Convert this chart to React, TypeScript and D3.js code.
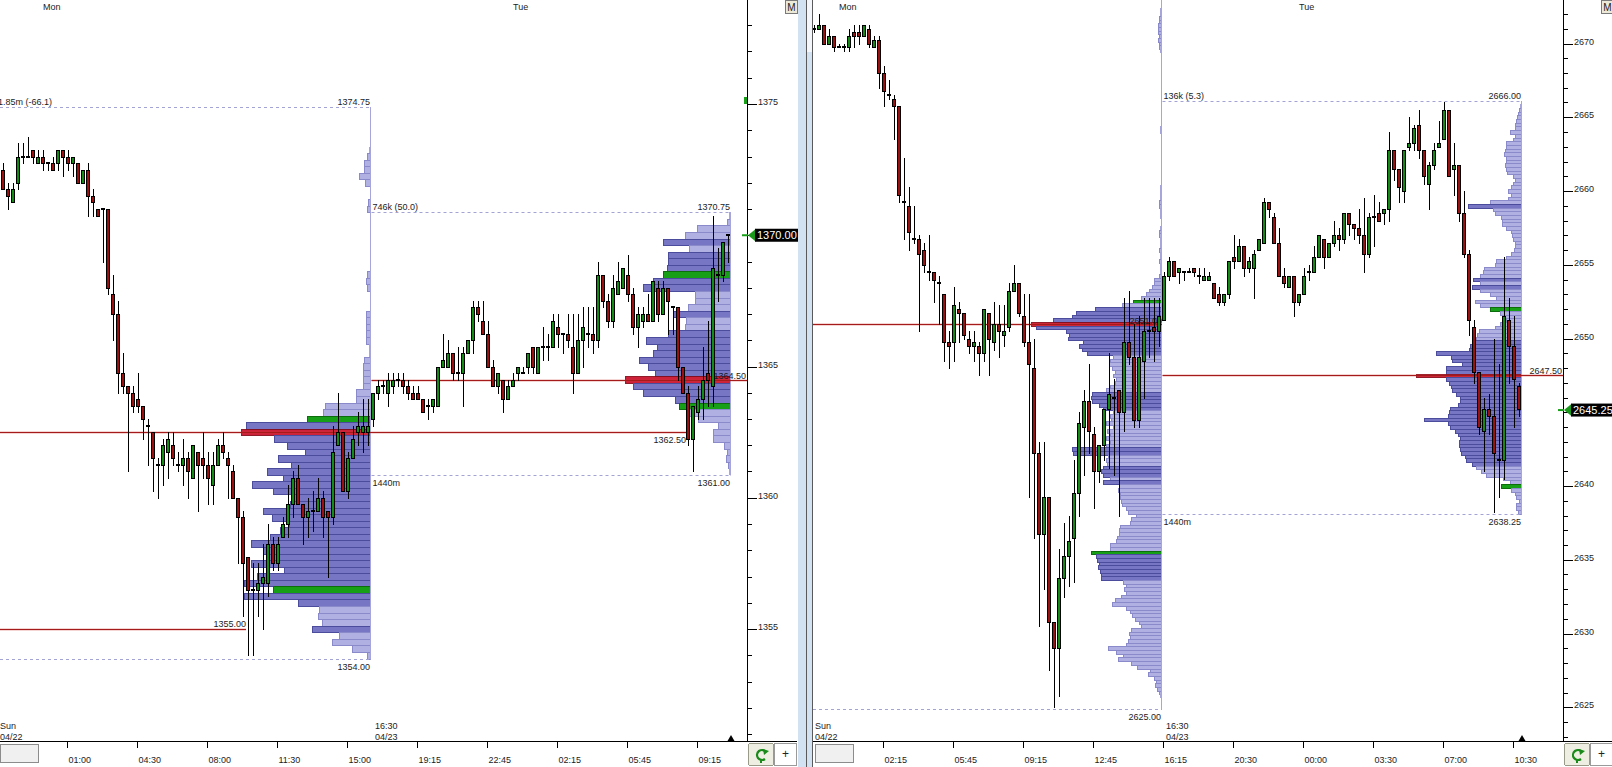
import React from "react";
import * as d3 from "d3";

type Bar = [number, number, number, number]; // open, high, low, close (15 min bars)

// ---------- left chart ----------
const leftMonBars: Bar[] = [
  [1372.5, 1372.75, 1371.75, 1371.75], [1371.75, 1372.0, 1371.0, 1371.5], [1371.25, 1372.0, 1371.25, 1371.75],
  [1372.0, 1373.5, 1371.75, 1373.0], [1373.0, 1373.5, 1372.75, 1373.0], [1373.0, 1373.75, 1373.0, 1373.0],
  [1373.25, 1373.25, 1372.75, 1373.0], [1372.75, 1373.25, 1372.75, 1373.0], [1373.0, 1373.25, 1372.5, 1372.75],
  [1372.75, 1372.75, 1372.5, 1372.75], [1372.75, 1373.0, 1372.5, 1372.5], [1372.75, 1373.25, 1372.5, 1373.25],
  [1373.25, 1373.25, 1372.25, 1373.0], [1373.0, 1373.25, 1372.5, 1372.75], [1372.75, 1373.0, 1372.25, 1373.0],
  [1372.75, 1372.75, 1372.0, 1372.0], [1372.0, 1372.5, 1372.0, 1372.5], [1372.5, 1372.75, 1370.75, 1371.5],
  [1371.5, 1371.75, 1370.75, 1371.25], [1371.0, 1371.0, 1370.75, 1370.75], [1371.0, 1371.0, 1369.0, 1371.0],
  [1371.0, 1371.0, 1367.75, 1368.0], [1367.75, 1368.5, 1366.0, 1367.0], [1367.0, 1367.5, 1364.0, 1364.75],
  [1364.75, 1365.5, 1364.0, 1364.25], [1364.25, 1364.25, 1361.0, 1364.0], [1364.0, 1364.25, 1363.25, 1363.5],
  [1363.75, 1364.75, 1363.25, 1363.5], [1363.5, 1363.5, 1362.25, 1363.0], [1362.75, 1363.0, 1361.25, 1362.75],
  [1362.5, 1362.5, 1360.25, 1361.5], [1361.25, 1361.5, 1360.0, 1361.25], [1361.25, 1362.25, 1360.5, 1362.0],
  [1361.75, 1362.5, 1360.75, 1362.25], [1362.0, 1362.5, 1361.25, 1361.5], [1361.25, 1361.75, 1361.0, 1361.25],
  [1361.25, 1362.25, 1360.5, 1361.5], [1361.5, 1361.75, 1360.0, 1361.0], [1360.75, 1362.0, 1360.75, 1362.0],
  [1361.75, 1361.75, 1359.5, 1361.25], [1361.5, 1362.5, 1360.75, 1361.25], [1361.25, 1361.75, 1359.75, 1360.75],
  [1360.5, 1361.75, 1359.75, 1361.25], [1361.25, 1362.25, 1361.25, 1362.0], [1362.0, 1362.5, 1361.5, 1361.75],
  [1361.5, 1361.75, 1360.0, 1361.25], [1361.0, 1361.25, 1360.0, 1360.0], [1360.0, 1360.0, 1357.5, 1359.25],
  [1359.25, 1359.5, 1355.5, 1357.5], [1357.75, 1357.75, 1354.0, 1356.5], [1356.5, 1357.5, 1354.0, 1356.5],
  [1356.5, 1357.5, 1355.5, 1356.75], [1356.75, 1358.25, 1355.0, 1357.0], [1356.75, 1359.0, 1356.25, 1358.25],
  [1358.25, 1358.5, 1357.25, 1357.5], [1357.5, 1358.5, 1357.25, 1358.25], [1358.5, 1359.25, 1358.5, 1359.0],
  [1359.0, 1360.5, 1358.5, 1359.75], [1359.75, 1361.0, 1359.25, 1360.75], [1360.75, 1361.25, 1359.75, 1359.75],
  [1359.75, 1359.75, 1358.25, 1359.25], [1359.25, 1360.0, 1358.5, 1359.5], [1359.5, 1360.25, 1358.75, 1359.5],
  [1359.5, 1360.75, 1359.5, 1360.0], [1360.0, 1360.25, 1358.5, 1359.25], [1359.5, 1359.5, 1357.0, 1359.25],
  [1359.25, 1362.75, 1359.0, 1361.75], [1362.0, 1364.0, 1362.0, 1362.5], [1362.5, 1362.5, 1360.25, 1360.25],
  [1360.25, 1361.75, 1360.0, 1361.5], [1361.5, 1362.75, 1361.5, 1362.25], [1362.5, 1363.25, 1362.0, 1362.75],
  [1362.5, 1363.75, 1361.75, 1362.75], [1362.5, 1363.75, 1362.0, 1362.75],
];

const leftTueBars: Bar[] = [
  [1363.0, 1364.0, 1362.75, 1364.0], [1364.0, 1364.5, 1363.75, 1364.25], [1364.25, 1364.5, 1364.0, 1364.25],
  [1364.0, 1364.75, 1363.5, 1364.5], [1364.25, 1364.75, 1364.0, 1364.5], [1364.5, 1364.75, 1364.25, 1364.5],
  [1364.5, 1364.75, 1364.0, 1364.25], [1364.25, 1364.5, 1363.75, 1364.0], [1364.0, 1364.25, 1363.75, 1363.75],
  [1364.0, 1364.25, 1363.75, 1363.75], [1363.75, 1363.75, 1363.25, 1363.25], [1363.5, 1363.75, 1363.0, 1363.5],
  [1363.5, 1363.75, 1363.25, 1363.75], [1363.5, 1365.0, 1363.5, 1365.0], [1365.0, 1366.25, 1365.0, 1365.25],
  [1365.0, 1366.0, 1365.0, 1365.5], [1365.5, 1365.5, 1364.5, 1364.75], [1364.75, 1365.75, 1364.5, 1364.75],
  [1364.75, 1365.75, 1363.5, 1365.5], [1365.5, 1366.0, 1365.5, 1366.0], [1366.0, 1367.5, 1365.5, 1367.25],
  [1367.25, 1367.5, 1366.75, 1367.0], [1366.75, 1367.5, 1366.25, 1366.25], [1366.25, 1366.75, 1365.0, 1365.0],
  [1365.0, 1365.25, 1364.25, 1364.25], [1364.25, 1364.75, 1364.0, 1364.75], [1364.5, 1364.5, 1363.25, 1363.75],
  [1363.75, 1364.5, 1363.75, 1364.25], [1364.25, 1364.75, 1364.25, 1364.5], [1364.75, 1365.0, 1364.5, 1365.0],
  [1364.75, 1365.0, 1364.75, 1364.75], [1365.0, 1365.5, 1364.75, 1365.5], [1365.75, 1365.75, 1364.75, 1365.0],
  [1364.75, 1365.75, 1364.75, 1365.75], [1365.75, 1366.5, 1365.25, 1365.75], [1365.75, 1366.25, 1365.25, 1365.75],
  [1365.75, 1367.0, 1365.75, 1366.75], [1366.5, 1367.0, 1365.75, 1366.25], [1366.25, 1366.25, 1365.5, 1366.25],
  [1366.25, 1367.0, 1365.75, 1366.0], [1365.75, 1367.0, 1364.0, 1364.75], [1364.75, 1367.0, 1364.75, 1366.0],
  [1366.0, 1367.25, 1365.0, 1366.5], [1366.25, 1367.25, 1365.75, 1366.25], [1366.25, 1367.25, 1365.5, 1366.0],
  [1366.0, 1369.0, 1365.75, 1368.5], [1368.5, 1368.5, 1367.25, 1367.5], [1367.5, 1367.75, 1366.5, 1366.75],
  [1366.75, 1368.5, 1366.5, 1368.0], [1367.75, 1369.0, 1367.75, 1368.25], [1368.0, 1368.75, 1368.0, 1368.75],
  [1368.5, 1369.25, 1367.5, 1367.75], [1367.75, 1368.0, 1366.25, 1366.5], [1366.5, 1367.25, 1365.75, 1367.0],
  [1366.75, 1367.25, 1366.5, 1367.0], [1367.0, 1367.75, 1366.75, 1366.75], [1366.75, 1368.25, 1366.75, 1368.25],
  [1368.0, 1368.25, 1366.75, 1367.0], [1367.0, 1368.25, 1367.0, 1368.0], [1368.0, 1368.0, 1366.25, 1367.5],
  [1367.25, 1367.25, 1366.25, 1367.25], [1367.25, 1367.25, 1364.5, 1365.0], [1365.0, 1365.0, 1364.0, 1364.0],
  [1364.0, 1364.25, 1362.0, 1362.25], [1362.25, 1363.5, 1361.0, 1363.5], [1363.25, 1364.25, 1363.0, 1363.75],
  [1363.75, 1365.75, 1363.0, 1364.5], [1364.75, 1366.75, 1363.5, 1364.5], [1364.25, 1370.75, 1363.5, 1368.75],
  [1368.5, 1369.5, 1367.5, 1368.5], [1368.5, 1369.75, 1368.25, 1369.75], [1370.0, 1370.0, 1369.0, 1370.0],
];

// volume at price, one value per 0.25 tick, from the session high downwards
const leftMonProfileHigh = 1374.75;
const leftMonProfile = [
  1, 1, 1, 1, 1, 1, 2, 4, 7, 7, 12, 6, 1, 1, 3, 4, 1, 1, 1, 1, 1, 1, 1, 1,
  1, 4, 5, 4, 1, 1, 1, 5, 5, 5, 5, 5, 2, 2, 7, 8, 8, 8, 8, 15, 15, 46, 48, 64,
  125, 130, 97, 84, 66, 93, 80, 104, 88, 119, 98, 78, 81, 108, 99, 82, 91, 101, 120, 108,
  104, 120, 87, 114, 127, 98, 127, 73, 52, 53, 49, 59, 32, 39, 19, 4,
];
const leftMonValueArea: [number, number] = [1356.5, 1363.0];
const leftMonPoc = 1362.5;
const leftMonVolume = "1.85m (-66.1)";

const leftTueProfileHigh = 1370.75;
const leftTueProfile = [
  2, 4, 34, 46, 68, 42, 63, 63, 64, 68, 78, 88, 36, 36, 43, 58, 45, 46, 63, 85,
  74, 78, 92, 83, 76, 106, 98, 88, 56, 52, 44, 33, 13, 18, 18, 7, 4, 5, 3, 2,
];
const leftTueValueArea: [number, number] = [1363.5, 1368.5];
const leftTuePoc = 1364.5;
const leftTueVolume = "746k (50.0)";
const leftPriorPoc = 1355.0;
const leftLast = 1370.0;

// ---------- right chart ----------
const rightMonBars: Bar[] = [
  [2671.0, 2671.25, 2670.75, 2671.0], [2671.0, 2672.0, 2671.0, 2671.25], [2671.25, 2671.25, 2670.0, 2670.0],
  [2670.0, 2671.0, 2670.0, 2670.5], [2670.5, 2670.5, 2669.5, 2669.75], [2669.75, 2670.0, 2669.75, 2669.75],
  [2669.75, 2670.0, 2669.5, 2669.75], [2669.75, 2671.0, 2669.5, 2670.5], [2670.75, 2671.25, 2669.75, 2670.5],
  [2670.75, 2671.25, 2670.0, 2670.5], [2670.5, 2671.25, 2670.5, 2671.25], [2671.0, 2671.25, 2669.75, 2670.0],
  [2669.75, 2670.5, 2669.75, 2670.25], [2670.25, 2670.5, 2667.0, 2668.0], [2668.0, 2668.5, 2665.75, 2666.75],
  [2666.5, 2667.5, 2666.25, 2666.5], [2666.25, 2666.5, 2663.5, 2665.75], [2665.75, 2665.75, 2659.25, 2659.75],
  [2659.25, 2662.25, 2656.75, 2659.25], [2659.0, 2660.25, 2656.0, 2657.25], [2656.75, 2659.0, 2656.5, 2656.75],
  [2656.75, 2657.0, 2650.5, 2655.75], [2656.0, 2656.5, 2654.5, 2655.0], [2654.5, 2657.0, 2654.0, 2654.5],
  [2654.5, 2654.5, 2652.5, 2654.0], [2653.75, 2654.25, 2651.0, 2653.75], [2653.0, 2653.0, 2648.5, 2649.75],
  [2649.75, 2650.5, 2648.0, 2649.5], [2649.75, 2653.5, 2648.5, 2652.25], [2652.0, 2652.5, 2649.75, 2651.75],
  [2651.75, 2651.75, 2650.0, 2650.25], [2650.0, 2650.5, 2649.0, 2649.5], [2649.5, 2650.5, 2648.5, 2649.75],
  [2649.5, 2649.75, 2647.5, 2649.0], [2649.0, 2652.0, 2648.5, 2652.0], [2651.75, 2651.75, 2647.5, 2650.0],
  [2649.75, 2652.5, 2649.25, 2651.0], [2651.0, 2652.25, 2648.75, 2650.5], [2650.25, 2652.25, 2649.5, 2650.5],
  [2650.75, 2653.75, 2650.5, 2653.25], [2653.25, 2655.0, 2653.25, 2653.75], [2653.75, 2653.75, 2651.5, 2651.75],
  [2651.5, 2653.0, 2649.5, 2649.75], [2649.75, 2653.0, 2639.25, 2648.25], [2648.0, 2650.0, 2636.5, 2642.25],
  [2642.25, 2643.0, 2630.5, 2636.75], [2636.75, 2643.0, 2633.0, 2639.25], [2639.25, 2639.25, 2627.5, 2630.75],
  [2630.75, 2630.75, 2625.0, 2629.0], [2629.0, 2635.75, 2625.75, 2633.75], [2633.75, 2637.5, 2632.5, 2635.25],
  [2635.25, 2638.0, 2633.25, 2636.25], [2636.5, 2641.75, 2633.5, 2639.5], [2639.5, 2645.0, 2638.0, 2644.25],
  [2644.0, 2646.5, 2640.75, 2645.75], [2645.75, 2648.25, 2642.25, 2643.75], [2643.5, 2644.0, 2638.5, 2641.0],
  [2641.0, 2642.75, 2640.25, 2642.75], [2642.75, 2645.25, 2641.75, 2645.25], [2645.25, 2649.0, 2641.25, 2646.25],
  [2646.0, 2647.25, 2640.75, 2646.0], [2646.5, 2646.5, 2638.0, 2645.0], [2645.0, 2652.75, 2643.75, 2649.75],
  [2649.75, 2653.25, 2648.25, 2648.75], [2648.75, 2651.0, 2644.0, 2644.5], [2644.5, 2651.5, 2644.0, 2648.75],
  [2648.5, 2652.75, 2646.0, 2650.5], [2650.5, 2652.75, 2648.75, 2650.5], [2650.75, 2652.75, 2648.5, 2650.5],
  [2650.5, 2652.75, 2649.5, 2651.5],
];

const rightTueBars: Bar[] = [
  [2651.25, 2654.5, 2651.25, 2654.25], [2654.25, 2655.5, 2654.0, 2655.25], [2655.25, 2655.25, 2654.25, 2654.25],
  [2654.5, 2654.75, 2653.75, 2654.75], [2654.5, 2654.5, 2654.0, 2654.5], [2654.5, 2654.75, 2654.5, 2654.5],
  [2654.75, 2654.75, 2654.25, 2654.5], [2654.25, 2654.75, 2653.75, 2654.25], [2654.0, 2654.75, 2654.0, 2654.25],
  [2654.0, 2654.5, 2654.0, 2654.25], [2653.75, 2653.75, 2652.75, 2652.75], [2653.0, 2653.5, 2652.25, 2652.5],
  [2652.5, 2653.0, 2652.25, 2653.0], [2653.0, 2655.25, 2652.75, 2655.25], [2655.5, 2657.0, 2654.75, 2655.25],
  [2655.25, 2656.75, 2655.25, 2656.25], [2656.25, 2656.25, 2654.25, 2654.75], [2654.75, 2655.5, 2654.5, 2655.25],
  [2654.75, 2656.0, 2652.75, 2655.75], [2656.0, 2656.75, 2656.0, 2656.75], [2656.5, 2659.5, 2656.5, 2659.25],
  [2659.25, 2659.25, 2658.25, 2658.75], [2658.25, 2658.5, 2656.5, 2656.5], [2656.5, 2657.5, 2654.25, 2654.25],
  [2654.25, 2654.75, 2653.5, 2653.75], [2653.5, 2654.25, 2653.5, 2654.25], [2654.25, 2654.25, 2651.5, 2652.5],
  [2652.5, 2653.0, 2652.25, 2653.0], [2653.0, 2654.75, 2653.0, 2654.25], [2654.5, 2655.0, 2654.0, 2654.5],
  [2654.5, 2656.25, 2654.5, 2655.5], [2655.5, 2657.0, 2655.5, 2657.0], [2656.75, 2656.75, 2654.75, 2655.5],
  [2655.5, 2656.5, 2655.5, 2656.5], [2656.5, 2658.0, 2656.25, 2657.0], [2657.0, 2657.5, 2656.0, 2656.75],
  [2656.75, 2658.5, 2656.5, 2658.5], [2658.5, 2658.5, 2657.0, 2657.75], [2657.75, 2657.75, 2656.75, 2657.5],
  [2657.5, 2658.75, 2656.5, 2657.0], [2657.0, 2659.5, 2654.5, 2655.75], [2655.75, 2658.5, 2655.5, 2658.25],
  [2658.25, 2659.75, 2656.25, 2658.25], [2658.5, 2659.25, 2658.0, 2658.0], [2658.5, 2658.75, 2657.75, 2658.75],
  [2658.75, 2664.0, 2658.0, 2662.75], [2662.75, 2662.75, 2660.75, 2661.5], [2661.5, 2661.5, 2659.25, 2660.25],
  [2660.0, 2662.75, 2659.25, 2662.75], [2663.0, 2665.0, 2662.75, 2663.25], [2663.25, 2664.5, 2662.75, 2664.25],
  [2664.5, 2665.5, 2662.25, 2662.75], [2662.75, 2662.75, 2660.5, 2661.0], [2660.5, 2662.0, 2658.75, 2661.75],
  [2661.75, 2663.25, 2661.5, 2662.75], [2663.0, 2664.75, 2663.0, 2663.25], [2663.5, 2666.0, 2663.5, 2665.5],
  [2665.5, 2665.5, 2661.0, 2661.0], [2661.5, 2663.25, 2659.75, 2661.75], [2661.75, 2661.75, 2658.0, 2658.5],
  [2658.5, 2660.0, 2655.5, 2655.75], [2655.75, 2656.0, 2650.25, 2651.25], [2650.75, 2651.25, 2647.0, 2647.75],
  [2647.75, 2647.75, 2643.5, 2644.0], [2643.75, 2646.0, 2641.0, 2645.25], [2645.25, 2646.25, 2643.5, 2644.75],
  [2644.75, 2650.0, 2638.25, 2642.25], [2641.75, 2648.25, 2639.25, 2641.75], [2641.75, 2655.5, 2640.5, 2651.5],
  [2651.25, 2652.75, 2647.0, 2649.5], [2649.5, 2651.5, 2644.0, 2647.25], [2646.75, 2647.0, 2644.75, 2645.25],
];

const rightMonProfileHigh = 2673.0;
const rightMonProfile = [
  1, 1, 1, 2, 2, 3, 3, 4, 4, 4, 3, 4, 3, 3, 2, 1, 1, 1, 1, 1, 1, 1, 1, 1, 1,
  1, 1, 1, 1, 1, 1, 1, 1, 1, 1, 2, 2, 1, 1, 1, 1, 1, 1, 1, 1, 1, 1, 1, 1, 1,
  1, 2, 2, 2, 2, 3, 3, 2, 2, 2, 1, 1, 2, 3, 3, 2, 2, 2, 3, 2, 2, 3, 2, 2, 2,
  3, 8, 8, 10, 13, 16, 21, 29, 40, 67, 86, 90, 109, 131,
  126, 96, 93, 94, 79, 83, 80, 75, 49, 52, 53, 50, 47, 49, 46, 47, 52, 56, 70, 71,
  70, 63, 59, 49, 52, 51, 56, 49, 55, 52, 56, 52, 56, 90, 89, 54, 56, 55, 59, 61,
  59, 52, 59, 43, 44, 42, 42, 41, 40, 36, 34, 26, 31, 32, 42, 43, 43, 45, 46, 52, 52,
  71, 66, 65, 63, 64, 62, 61, 61, 39, 36, 38, 36, 41, 47, 50, 36, 32, 30, 27,
  23, 21, 31, 33, 32, 34, 36, 54, 46, 39, 44, 31, 25, 12, 14, 8, 6, 7, 5, 3, 2, 1, 1, 1,
];
const rightMonValueArea: [number, number] = [2635.5, 2652.5];
const rightMonPoc = 2651.0;

const rightTueProfileHigh = 2666.0;
const rightTueProfile = [
  1, 2, 3, 4, 5, 6, 7, 7, 12, 7, 9, 16, 16, 17, 18, 16, 16, 17, 16, 15, 9,
  7, 9, 11, 14, 11, 14, 32, 54, 29, 27, 21, 20, 20, 16, 11, 10,
  9, 7, 7, 8, 11, 16, 26, 27, 38, 39, 42, 49, 42, 50, 42, 32, 26, 47, 42, 32,
  22, 18, 16, 22, 27, 43, 45, 46, 48, 52, 53, 86, 71, 70, 60, 76, 76, 106, 76, 73,
  71, 70, 66, 62, 62, 64, 72, 73, 74, 98, 74, 72, 67, 64, 62, 63, 63, 62, 61, 57,
  56, 50, 46, 41, 36, 19, 12, 21, 11, 7, 6, 3, 6, 6, 4,
];
const rightTueValueArea: [number, number] = [2640.0, 2652.0];
const rightTuePoc = 2647.5;
const rightTueVolume = "136k (5.3)";
const rightLast = 2645.25;

// ---------- time axis ----------
const leftTimeTicks = [13, 27, 41, 55, 69, 83, 97, 111, 125, 139];
const leftTimeLabels = ["01:00", "04:30", "08:00", "11:30", "15:00", "19:15", "22:45", "02:15", "05:45", "09:15"];
const rightTimeTicks = [14, 28, 42, 56, 70, 84, 98, 112, 126, 140];
const rightTimeLabels = ["02:15", "05:45", "09:15", "12:45", "16:15", "20:30", "00:00", "03:30", "07:00", "10:30"];
const leftDays: [string, number][] = [["Mon", 8], ["Tue", 102]];
const rightDays: [string, number][] = [["Mon", 5], ["Tue", 97]];
const sessionDates: [string, string][] = [["Sun", "04/22"], ["16:30", "04/23"]];

const FONT = "'Liberation Sans', Arial, sans-serif";
const C = {
  hiFill: "#7676c4", hiStroke: "#4c4c9c",
  loFill: "#b0b0e2", loStroke: "#8a8acb", stick: "#a6a6dc",
  green: "#17a017", greenS: "#0d6d0d",
  poc: "#c80f28", pocS: "#880a18",
  dash: "#a4a4d4", up: "#138c13", down: "#9e1010", pocLine: "#a51a1a",
  text: "#1c1c1c",
};
const HIGH_NODE = 0.45; // share of the POC volume above which a row is drawn dark

interface Session {
  start: number; bars: Bar[]; high: number; vols: number[]; va: [number, number]; poc: number;
  right: number; pocWidth: number; volLabel?: string; minutesLabel?: string;
}
interface PocLine { price: number; from: number | null; to: number | null; dy: number }
interface PanelCfg {
  id: string; left: number; axisX: number; firstX: number;
  priceA: number; yA: number; priceB: number; yB: number;
  sessions: Session[]; pocLines: PocLine[];
  ticks: number[]; tickLabels: string[]; days: [string, number][]; dateX0: number;
  last: number; lastDy: number; axisMark?: number; volLabelX: number;
}

const eq = (a: number, b: number) => Math.abs(a - b) < 1e-6;

function Profile({ s, y }: { s: Session; y: d3.ScaleLinear<number, number> }) {
  const maxVol = d3.max(s.vols) as number;
  const w = d3.scaleLinear().domain([0, maxVol]).range([0, s.pocWidth]);
  return (
    <g shapeRendering="crispEdges">
      {s.vols.map((v, k) => {
        const price = s.high - k * 0.25;
        const y0 = Math.round(y(price + 0.125));
        const y1 = Math.round(y(price - 0.125));
        const wd = Math.max(1, Math.round(w(v)));
        const heavy = v >= maxVol * HIGH_NODE;
        let fill = heavy ? C.hiFill : C.loFill;
        let stroke = heavy ? C.hiStroke : C.loStroke;
        if (eq(price, s.va[0]) || eq(price, s.va[1])) { fill = C.green; stroke = C.greenS; }
        if (eq(price, s.poc)) { fill = C.poc; stroke = C.pocS; }
        if (wd <= 2) return <rect key={k} x={s.right - wd} y={y0} width={wd} height={Math.max(1, y1 - y0)} fill={C.stick} />;
        return (
          <rect key={k} x={s.right - wd + 0.5} y={y0 + 0.5} width={wd - 1} height={Math.max(1, y1 - y0)}
            fill={fill} stroke={stroke} strokeWidth={1} opacity={eq(price, s.poc) ? 0.92 : 1} />
        );
      })}
    </g>
  );
}

function Panel({ cfg }: { cfg: PanelCfg }) {
  const x = d3.scaleLinear().domain([0, 1]).range([cfg.firstX, cfg.firstX + 5]);
  const y = d3.scaleLinear().domain([cfg.priceA, cfg.priceB]).range([cfg.yA, cfg.yB]);
  const bottom = 742;
  const clipId = "clip-" + cfg.id;
  const ax = cfg.axisX;
  const priceTicks = d3.range(Math.ceil(y.invert(bottom)), Math.floor(y.invert(0)) + 1);
  const lastIdx = d3.max(cfg.sessions, (s) => s.start + s.bars.length - 1) as number;
  const t = { fontSize: 9, fill: C.text };
  const sx = (s: Session) => (s.start === 0 ? cfg.left : x(s.start) - 1.5);
  const ly = y(cfg.last) + cfg.lastDy;

  return (
    <g fontFamily={FONT}>
      <defs>
        <clipPath id={clipId}>
          <rect x={cfg.left} y={0} width={ax - cfg.left} height={bottom} />
        </clipPath>
      </defs>
      <g clipPath={`url(#${clipId})`}>
        {cfg.sessions.map((s, si) => <Profile key={si} s={s} y={y} />)}

        {cfg.sessions.map((s, si) => {
          const top = Math.round(y(s.high + 0.125)) + 0.5;
          const low = s.high - (s.vols.length - 1) * 0.25;
          const bot = Math.round(y(low - 0.125)) + 0.5;
          const x0 = sx(s);
          const lx = s.start === 0 ? cfg.volLabelX : x0 + 1;
          const showTop = top > 12;
          return (
            <g key={"l" + si}>
              <line x1={x0} x2={s.right} y1={top} y2={top} stroke={C.dash} strokeDasharray="3,3" />
              <line x1={x0} x2={s.right} y1={bot} y2={bot} stroke={C.dash} strokeDasharray="3,3" />
              <line x1={s.right - 0.5} x2={s.right - 0.5} y1={top} y2={bot} stroke={C.stick} />
              {showTop && s.volLabel && <text x={lx} y={top - 3} {...t}>{s.volLabel}</text>}
              {showTop && <text x={s.right - 1} y={top - 3} textAnchor="end" {...t}>{s.high.toFixed(2)}</text>}
              <text x={s.right - 1} y={bot + 10.5} textAnchor="end" {...t}>{low.toFixed(2)}</text>
              {s.minutesLabel && <text x={x0 + 1} y={bot + 10.5} {...t}>{s.minutesLabel}</text>}
            </g>
          );
        })}

        {cfg.pocLines.map((p, k) => {
          const py = Math.round(y(p.price)) + 0.5;
          const x1 = p.from === null ? cfg.left : x(p.from) - 1.5;
          const x2 = p.to === null ? ax : x(p.to) - 2;
          return (
            <g key={"p" + k}>
              <line x1={x1} x2={x2} y1={py} y2={py} stroke="rgba(210,60,60,0.22)" strokeWidth={3} />
              <line x1={x1} x2={x2} y1={py} y2={py} stroke={C.pocLine} strokeWidth={1} />
              <text x={p.to === null ? ax - 1 : x2} y={py + p.dy} textAnchor="end" {...t}>{p.price.toFixed(2)}</text>
            </g>
          );
        })}

        <g shapeRendering="crispEdges">
          {cfg.sessions.map((s) =>
            s.bars.map(([o, h, l, c], i) => {
              const cx = Math.round(x(s.start + i));
              const yh = Math.round(y(h));
              const yl = Math.round(y(l));
              const yt = Math.round(y(Math.max(o, c)));
              const yb = Math.round(y(Math.min(o, c)));
              return (
                <g key={s.start + i}>
                  <line x1={cx + 0.5} x2={cx + 0.5} y1={yh} y2={yl + 1} stroke="#000" />
                  {eq(o, c) ? (
                    <rect x={cx - 2} y={yt - 1} width={4} height={2} fill="#000" />
                  ) : (
                    <rect x={cx - 1.5} y={yt + 0.5} width={3} height={yb - yt}
                      fill={c > o ? C.up : C.down} stroke="#000" />
                  )}
                </g>
              );
            })
          )}
        </g>

        {cfg.days.map(([d, idx]) => (
          <text key={d} x={x(idx)} y={10} {...t}>{d}</text>
        ))}
        {cfg.sessions.map((s, si) => {
          const dx = s.start === 0 ? cfg.dateX0 : x(s.start) + 2;
          return (
            <g key={"d" + si}>
              <text x={dx} y={728.5} {...t}>{sessionDates[si][0]}</text>
              <text x={dx} y={739.5} {...t}>{sessionDates[si][1]}</text>
            </g>
          );
        })}
        <polygon points={`${x(lastIdx) + 3},735 ${x(lastIdx) + 6.5},741 ${x(lastIdx) - 0.5},741`} fill="#000" />
      </g>

      {/* price axis */}
      <g shapeRendering="crispEdges">
        <line x1={ax + 0.5} x2={ax + 0.5} y1={0} y2={bottom} stroke="#000" />
        {priceTicks.map((p) => {
          const py = Math.round(y(p)) + 0.5;
          const major = p % 5 === 0;
          return <line key={p} x1={ax} x2={ax + (major ? 10 : 5)} y1={py} y2={py} stroke="#000" />;
        })}
      </g>
      {priceTicks
        .filter((p) => p % 5 === 0 && Math.abs(y(p) - ly) > 9)
        .map((p) => (
          <text key={"t" + p} x={ax + 11} y={Math.round(y(p)) + 0.5} {...t}>{p}</text>
        ))}
      {cfg.axisMark !== undefined && (
        <rect x={ax - 3} y={Math.round(y(cfg.axisMark)) - 7} width={3} height={7} fill={C.green} />
      )}

      {/* last price */}
      <line x1={ax - 5} x2={ax + 1} y1={ly} y2={ly} stroke={C.green} strokeWidth={2} />
      <polygon points={`${ax + 1},${ly} ${ax + 9},${ly - 6.5} ${ax + 9},${ly + 6.5}`} fill="#1a9a1a" />
      <rect x={ax + 8} y={ly - 6.5} width={43} height={13} fill="#000" />
      <text x={ax + 10} y={ly + 4} fontSize={11} fill="#fff">{cfg.last.toFixed(2)}</text>

      {/* top button */}
      <rect x={ax + 38.5} y={0.5} width={12} height={13} fill="#ece9d8" stroke="#7a7a7a" />
      <text x={ax + 44.5} y={11} fontSize={10} textAnchor="middle" fill="#222">M</text>

      {/* time axis */}
      <g shapeRendering="crispEdges">
        <line x1={cfg.left} x2={ax + 50} y1={bottom - 0.5} y2={bottom - 0.5} stroke="#000" />
        {cfg.ticks.map((ti) => {
          const tx = Math.round(x(ti)) - 0.5;
          return <line key={ti} x1={tx} x2={tx} y1={bottom} y2={bottom + 6} stroke="#000" />;
        })}
        <rect x={cfg.dateX0 + 0.5} y={744.5} width={38} height={18} fill="#f0f0f0" stroke="#8c8c8c" />
        <rect x={ax + 1.5} y={743.5} width={25} height={22} rx={2} fill="#efeee2" stroke="#9a9a88" />
        <rect x={ax + 27.5} y={743.5} width={22} height={22} fill="#fff" stroke="#9a9a9a" />
      </g>
      {cfg.ticks.map((ti, k) => (
        <text key={"x" + ti} x={Math.round(x(ti)) + 0.5} y={763} {...t}>{cfg.tickLabels[k]}</text>
      ))}
      <path d={`M ${ax + 19} ${752} A 5 5 0 1 0 ${ax + 18} ${759}`} fill="none" stroke="#1a8a1a" strokeWidth={2.2} />
      <polygon points={`${ax + 16},${749} ${ax + 22},${751} ${ax + 17},${755}`} fill="#1a8a1a" />
      <line x1={ax + 14} x2={ax + 14} y1={759} y2={763} stroke="#1a8a1a" strokeWidth={2} />
      <text x={ax + 38.5} y={758} fontSize={12} textAnchor="middle" fill="#222">+</text>
    </g>
  );
}

export default function App() {
  const left: PanelCfg = {
    id: "L", left: 0, axisX: 747, firstX: 3,
    priceA: 1375, yA: 104, priceB: 1355, yB: 629,
    sessions: [
      { start: 0, bars: leftMonBars, high: leftMonProfileHigh, vols: leftMonProfile, va: leftMonValueArea,
        poc: leftMonPoc, right: 371, pocWidth: 130, volLabel: leftMonVolume },
      { start: leftMonBars.length, bars: leftTueBars, high: leftTueProfileHigh, vols: leftTueProfile,
        va: leftTueValueArea, poc: leftTuePoc, right: 731, pocWidth: 106, volLabel: leftTueVolume, minutesLabel: "1440m" },
    ],
    pocLines: [
      { price: leftMonPoc, from: null, to: 137, dy: 10 },
      { price: leftPriorPoc, from: null, to: 49, dy: -2.5 },
      { price: leftTuePoc, from: leftMonBars.length, to: null, dy: -1.5 },
    ],
    ticks: leftTimeTicks, tickLabels: leftTimeLabels, days: leftDays, dateX0: 0,
    last: leftLast, lastDy: 0, axisMark: 1375, volLabelX: -2,
  };
  const right: PanelCfg = {
    id: "R", left: 813, axisX: 1563, firstX: 814,
    priceA: 2670, yA: 43.5, priceB: 2640, yB: 486,
    sessions: [
      { start: 0, bars: rightMonBars, high: rightMonProfileHigh, vols: rightMonProfile, va: rightMonValueArea,
        poc: rightMonPoc, right: 1162, pocWidth: 131 },
      { start: rightMonBars.length, bars: rightTueBars, high: rightTueProfileHigh, vols: rightTueProfile,
        va: rightTueValueArea, poc: rightTuePoc, right: 1522, pocWidth: 106, volLabel: rightTueVolume, minutesLabel: "1440m" },
    ],
    pocLines: [
      { price: rightMonPoc, from: null, to: rightMonBars.length, dy: -1 },
      { price: rightTuePoc, from: rightMonBars.length, to: null, dy: -2 },
    ],
    ticks: rightTimeTicks, tickLabels: rightTimeLabels, days: rightDays, dateX0: 815,
    last: rightLast, lastDy: 1.5, volLabelX: 810,
  };

  return (
    <div style={{ position: "fixed", left: 0, top: 0, width: 1612, height: 767, background: "#fff" }}>
      <svg width={1612} height={767} style={{ display: "block" }}>
        <rect width={1612} height={767} fill="#fff" />
        <Panel cfg={left} />
        <Panel cfg={right} />
        {/* splitter between the two charts */}
        <g shapeRendering="crispEdges">
          <rect x={798} y={0} width={15} height={767} fill="#d3e2f2" />
          <rect x={807} y={0} width={5} height={52} fill="#f3f7fc" />
          <line x1={806.5} x2={806.5} y1={0} y2={767} stroke="#5a5a5a" />
          <line x1={812.5} x2={812.5} y1={0} y2={767} stroke="#5a5a5a" />
        </g>
      </svg>
    </div>
  );
}
